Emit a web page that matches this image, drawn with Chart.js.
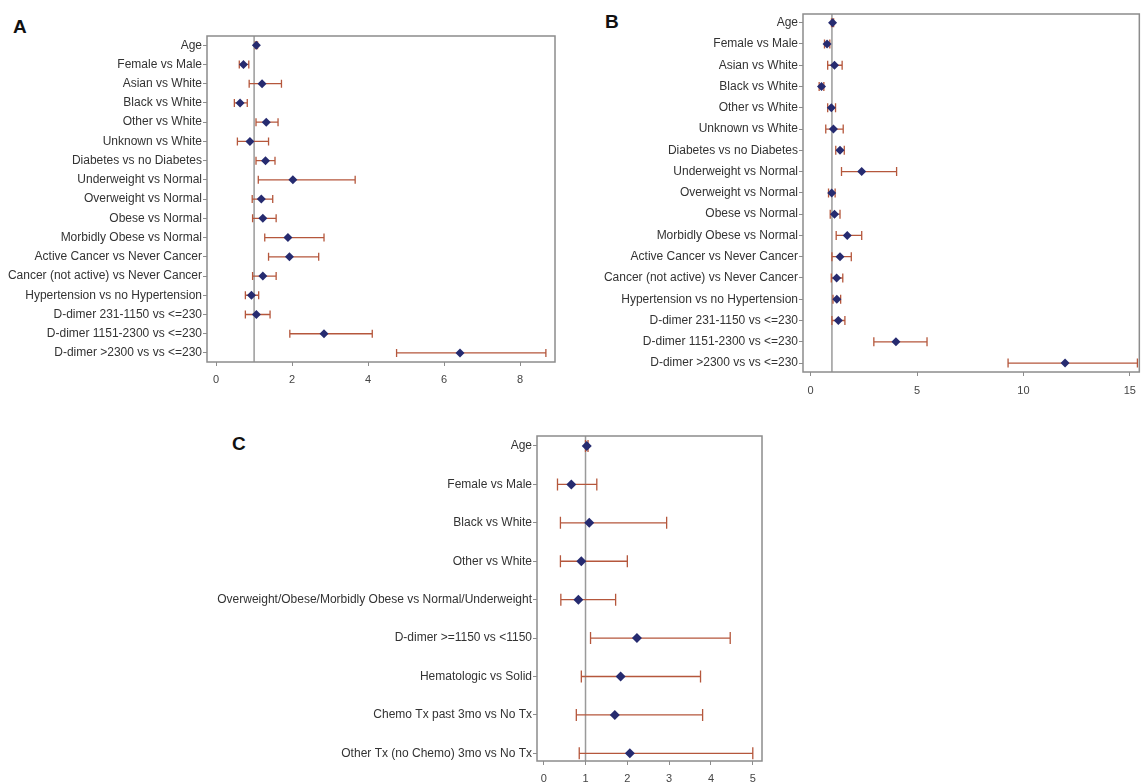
<!DOCTYPE html>
<html>
<head>
<meta charset="utf-8">
<script src="https://cdn.jsdelivr.net/npm/chart.js@4.4.1/dist/chart.umd.min.js"></script>
<style>
  body { margin: 0; background: #fff; width: 1144px; height: 784px; position: relative; overflow: hidden; }
  canvas { position: absolute; }
  .tag { position: absolute; font-family: "Liberation Sans", Arial, sans-serif; font-weight: bold; font-size: 19px; color: #111; }
</style>
</head>
<body>
<div class="tag" style="left:13px;top:16px">A</div>
<div class="tag" style="left:605px;top:11px">B</div>
<div class="tag" style="left:232px;top:433px">C</div>
<canvas id="chartA" width="560" height="395" style="left:0;top:0"></canvas>
<canvas id="chartB" width="554" height="405" style="left:590px;top:0"></canvas>
<canvas id="chartC" width="570" height="384" style="left:200px;top:400px"></canvas>
<script>
// Panel A
const labelsA = ['Age', 'Female vs Male', 'Asian vs White', 'Black vs White', 'Other vs White',
  'Unknown vs White', 'Diabetes vs no Diabetes', 'Underweight vs Normal', 'Overweight vs Normal',
  'Obese vs Normal', 'Morbidly Obese vs Normal', 'Active Cancer vs Never Cancer',
  'Cancer (not active) vs Never Cancer', 'Hypertension vs no Hypertension',
  'D-dimer 231-1150 vs <=230', 'D-dimer 1151-2300 vs <=230', 'D-dimer >2300 vs vs <=230'];
const orA   = [1.06, 0.72, 1.21, 0.63, 1.32, 0.89, 1.30, 2.02, 1.19, 1.23, 1.89, 1.93, 1.23, 0.93, 1.06, 2.84, 6.42];
const lowA  = [1.03, 0.61, 0.87, 0.48, 1.05, 0.56, 1.05, 1.11, 0.95, 0.96, 1.28, 1.38, 0.96, 0.77, 0.77, 1.94, 4.75];
const highA = [1.09, 0.86, 1.72, 0.82, 1.63, 1.38, 1.55, 3.66, 1.49, 1.58, 2.84, 2.70, 1.58, 1.12, 1.42, 4.11, 8.68];
const ticksA = [0, 2, 4, 6, 8];

// Panel B
const labelsB = labelsA;
const orB   = [1.03, 0.77, 1.12, 0.51, 0.97, 1.07, 1.38, 2.40, 0.99, 1.12, 1.72, 1.38, 1.22, 1.23, 1.30, 4.01, 11.96];
const lowB  = [0.98, 0.65, 0.80, 0.40, 0.80, 0.71, 1.18, 1.45, 0.84, 0.92, 1.20, 1.00, 0.97, 1.05, 1.00, 2.97, 9.28];
const highB = [1.08, 0.90, 1.48, 0.62, 1.17, 1.53, 1.58, 4.04, 1.15, 1.38, 2.40, 1.91, 1.51, 1.41, 1.61, 5.47, 15.36];
const ticksB = [0, 5, 10, 15];

// Panel C
const labelsC = ['Age', 'Female vs Male', 'Black vs White', 'Other vs White',
  'Overweight/Obese/Morbidly Obese vs Normal/Underweight', 'D-dimer >=1150 vs <1150',
  'Hematologic vs Solid', 'Chemo Tx past 3mo vs No Tx', 'Other Tx (no Chemo) 3mo vs No Tx'];
const orC   = [1.03, 0.66, 1.09, 0.90, 0.83, 2.23, 1.84, 1.70, 2.06];
const lowC  = [1.00, 0.33, 0.40, 0.40, 0.41, 1.12, 0.90, 0.78, 0.85];
const highC = [1.06, 1.27, 2.94, 2.00, 1.72, 4.46, 3.75, 3.80, 5.00];
const ticksC = [0, 1, 2, 3, 4, 5];

const refValue = 1;
const fontFamily = '"Liberation Sans", Arial, sans-serif';

function makeForest(id, labels, or, low, high, xTicks, cfg) {
  const forest = {
    id: 'forest',
    beforeDatasetsDraw(chart) {
      const { ctx, chartArea: a, scales: { x, y } } = chart;
      ctx.save();
      ctx.strokeStyle = '#9a9a9a';
      ctx.lineWidth = 1.5;
      const rx = x.getPixelForValue(refValue);
      ctx.beginPath();
      ctx.moveTo(rx, a.top);
      ctx.lineTo(rx, a.bottom);
      ctx.stroke();

      // confidence interval whiskers
      ctx.strokeStyle = '#b5573c';
      ctx.lineWidth = 1.3;
      low.forEach((lo, i) => {
        const py = y.getPixelForValue(i);
        const x0 = x.getPixelForValue(lo);
        const x1 = x.getPixelForValue(high[i]);
        ctx.beginPath();
        ctx.moveTo(x0, py); ctx.lineTo(x1, py);
        ctx.moveTo(x0, py - cfg.cap); ctx.lineTo(x0, py + cfg.cap);
        ctx.moveTo(x1, py - cfg.cap); ctx.lineTo(x1, py + cfg.cap);
        ctx.stroke();
      });
      ctx.restore();
    },
    afterDraw(chart) {
      const { ctx, chartArea: a } = chart;
      ctx.save();
      ctx.strokeStyle = '#8c8c8c';
      ctx.lineWidth = 1.5;
      ctx.strokeRect(a.left, a.top, a.right - a.left, a.bottom - a.top);
      ctx.restore();
    }
  };

  return new Chart(document.getElementById(id), {
    type: 'scatter',
    data: {
      datasets: [{
        data: or.map((v, i) => ({ x: v, y: i })),
        pointStyle: 'rectRot',
        pointRadius: cfg.radius,
        backgroundColor: '#262b70',
        borderColor: '#262b70',
        borderWidth: 0
      }]
    },
    options: {
      responsive: false,
      animation: false,
      layout: { padding: { top: cfg.top, right: cfg.right, left: 0, bottom: 0 } },
      plugins: { legend: { display: false }, tooltip: { enabled: false } },
      scales: {
        x: {
          type: 'linear',
          min: cfg.xmin,
          max: cfg.xmax,
          afterBuildTicks: s => { s.ticks = xTicks.map(v => ({ value: v })); },
          afterFit: s => { s.height = cfg.xh; },
          grid: { drawOnChartArea: false, drawTicks: true, tickLength: 4, color: '#8c8c8c' },
          border: { display: false },
          ticks: { padding: cfg.xpad, color: '#444', font: { family: fontFamily, size: 11 } }
        },
        y: {
          type: 'linear',
          reverse: true,
          min: cfg.ymin,
          max: cfg.ymax,
          afterBuildTicks: s => { s.ticks = labels.map((_, i) => ({ value: i })); },
          afterFit: s => { s.width = cfg.yw; },
          grid: { drawOnChartArea: false, drawTicks: true, tickLength: 4, color: '#8c8c8c' },
          border: { display: false },
          ticks: {
            autoSkip: false,
            padding: 1,
            color: '#333',
            font: { family: fontFamily, size: 12 },
            callback: v => labels[v]
          }
        }
      }
    },
    plugins: [forest]
  });
}

makeForest('chartA', labelsA, orA, lowA, highA, ticksA,
  { xmin: -0.24, xmax: 8.92, ymin: -0.48, ymax: 16.47, top: 36, right: 5, yw: 207, xh: 33, xpad: 7, cap: 4, radius: 4.5 });
makeForest('chartB', labelsB, orB, lowB, highB, ticksB,
  { xmin: -0.36, xmax: 15.45, ymin: -0.41, ymax: 16.42, top: 14, right: 1, yw: 213, xh: 33, xpad: 8, cap: 4.5, radius: 4.5 });
makeForest('chartC', labelsC, orC, lowC, highC, ticksC,
  { xmin: -0.16, xmax: 5.22, ymin: -0.26, ymax: 8.2, top: 36, right: 8, yw: 337, xh: 23, xpad: 7, cap: 6, radius: 5 });
</script>
</body>
</html>
